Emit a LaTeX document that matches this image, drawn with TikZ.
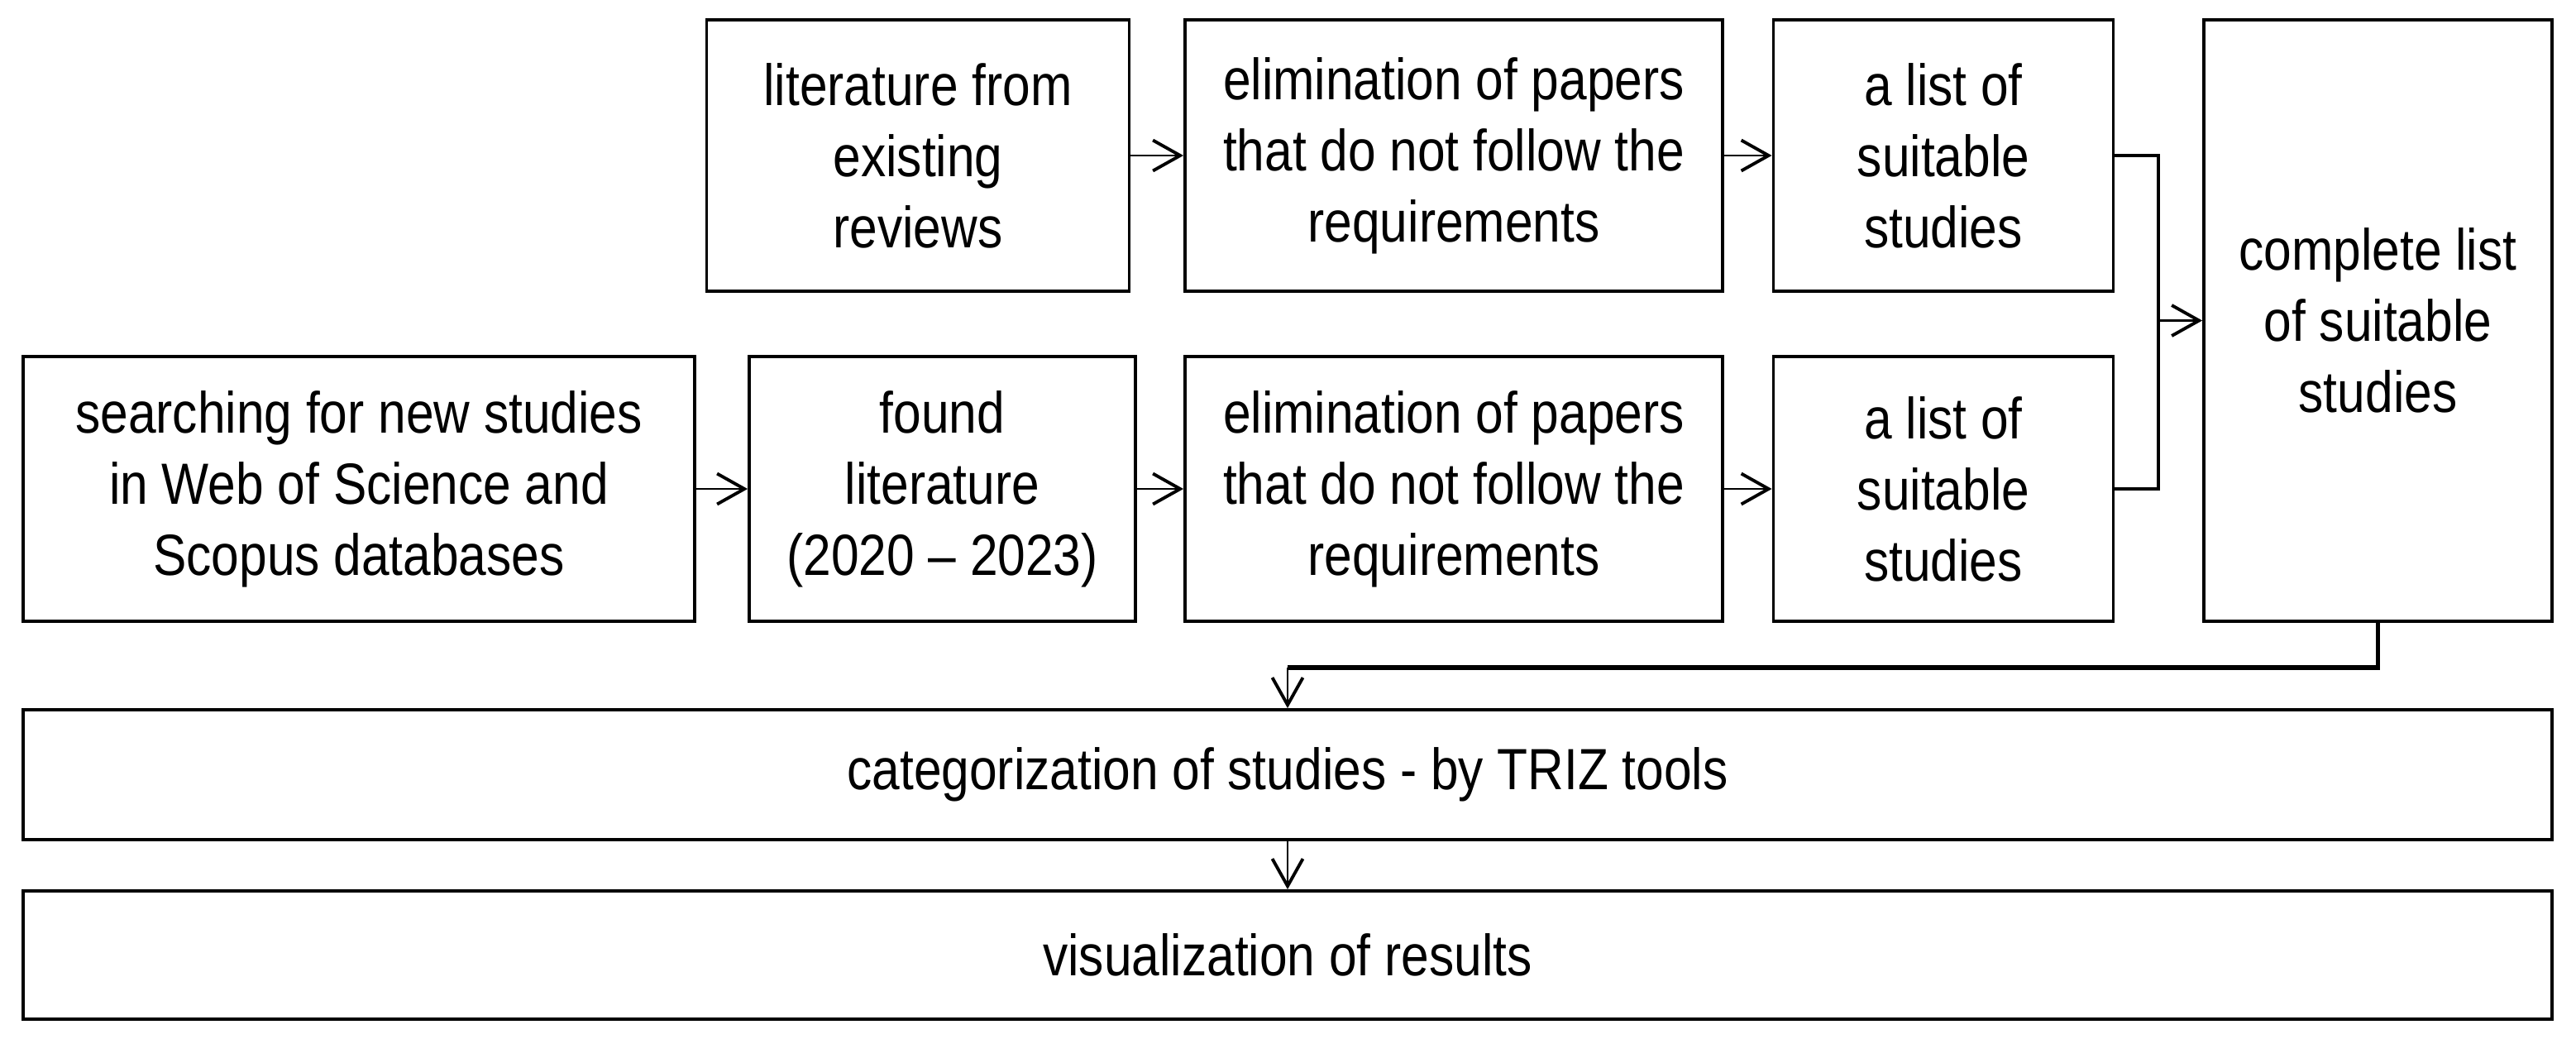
\documentclass[tikz,border=0pt]{standalone}
\usepackage{fontspec}
\setmainfont[FakeStretch=0.86]{Liberation Sans}
\usetikzlibrary{arrows.meta}
\tikzset{
  stagebox/.style={draw, line width=1.1pt, align=center, inner sep=0pt,
    font=\fontsize{20}{24.5}\selectfont},
  flow/.style={line width=0.8pt, -{Straight Barb[length=3.3mm, width=3.7mm, line width=1.1pt]}},
  link/.style={line width=1.1pt}
}
\begin{document}
\begin{tikzpicture}
  \useasboundingbox (0,0) rectangle (31.15,-12.55);
  % top row
  \node[stagebox, minimum width=5.11cm, minimum height=3.28cm] (rev) at (11.10,-1.88) {literature from\\existing\\reviews};
  \node[stagebox, minimum width=6.50cm, minimum height=3.28cm] (elimA) at (17.58,-1.88) {elimination of papers\\that do not follow the\\requirements};
  \node[stagebox, minimum width=4.11cm, minimum height=3.28cm] (listA) at (23.50,-1.88) {a list of\\suitable\\studies};
  % bottom row
  \node[stagebox, minimum width=8.12cm, minimum height=3.20cm] (search) at (4.34,-5.91) {searching for new studies\\in Web of Science and\\Scopus databases};
  \node[stagebox, minimum width=4.67cm, minimum height=3.20cm] (found) at (11.395,-5.91) {found\\literature\\(2020 -- 2023)};
  \node[stagebox, minimum width=6.50cm, minimum height=3.20cm] (elimB) at (17.58,-5.91) {elimination of papers\\that do not follow the\\requirements};
  \node[stagebox, minimum width=4.11cm, minimum height=3.20cm] (listB) at (23.50,-5.91) {a list of\\suitable\\studies};
  % right column and result rows
  \node[stagebox, minimum width=4.21cm, minimum height=7.27cm] (full) at (28.755,-3.875) {complete list\\of suitable\\studies};
  \node[stagebox, minimum width=30.58cm, minimum height=1.57cm] (cat) at (15.57,-9.365) {categorization of studies - by TRIZ tools};
  \node[stagebox, minimum width=30.58cm, minimum height=1.55cm] (vis) at (15.57,-11.545) {visualization of results};
  \coordinate (join) at (26.10,-3.875);
  \coordinate (bend) at (15.57,-8.07);
  \draw[flow] (rev) -- (elimA);
  \draw[flow] (elimA) -- (listA);
  \draw[flow] (search) -- (found);
  \draw[flow] (found) -- (elimB);
  \draw[flow] (elimB) -- (listB);
  \draw[link] (listA.east) -| (join);
  \draw[link] (listB.east) -| (join);
  \draw[flow] (join) -- (full.west);
  \draw[link, line width=1.5pt] (full.south) |- (bend);
  \draw[flow] (bend) -- (cat.north);
  \draw[flow] (cat) -- (vis);
\end{tikzpicture}
\end{document}
